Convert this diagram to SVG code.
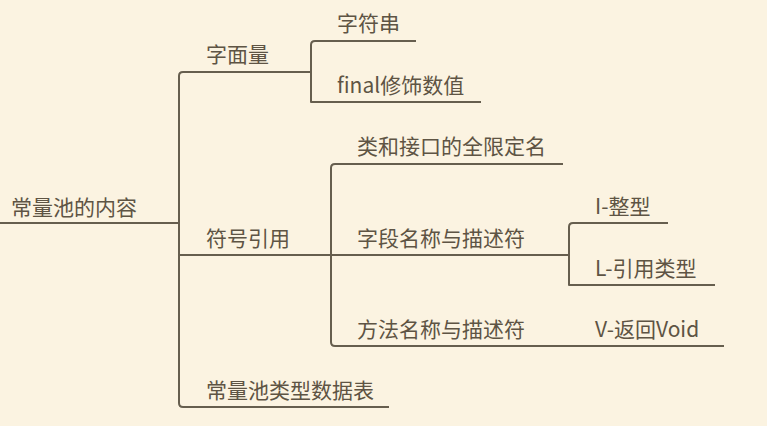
<svg xmlns="http://www.w3.org/2000/svg" width="767" height="426" viewBox="0 0 767 426">
<style>
.bg{fill:#FBF3E1}
.c{fill:none;stroke:#665E4E;stroke-width:2;stroke-linejoin:round}
.t{font-family:"Noto Sans CJK SC","Microsoft YaHei",sans-serif;font-size:21px;fill:#5E5444}
</style>
<rect class="bg" x="0" y="0" width="767" height="426"/>
<g id="connectors">
<path class="c" d="M0 223H179"/>
<path class="c" d="M311 72H183Q179 72 179 76V403Q179 407 183 407H389"/>
<path class="c" d="M179 255H331"/>
<path class="c" d="M416 41H315Q311 41 311 45V102H481"/>
<path class="c" d="M563 164H335Q331 164 331 168V342Q331 346 335 346H724"/>
<path class="c" d="M331 255H569"/>
<path class="c" d="M668 223H573Q569 223 569 227V285H715"/>
</g>
<g id="root"><text class="t" x="11" y="215">常量池的内容</text></g>
<g id="n1"><text class="t" x="206" y="62">字面量</text></g>
<g id="n1a"><text class="t" x="337" y="31">字符串</text></g>
<g id="n1b"><text class="t" x="337" y="93">final修饰数值</text></g>
<g id="n2"><text class="t" x="206" y="246">符号引用</text></g>
<g id="n2a"><text class="t" x="357" y="154">类和接口的全限定名</text></g>
<g id="n2b"><text class="t" x="357" y="246">字段名称与描述符</text></g>
<g id="n2b1"><text class="t" x="595" y="214">I-整型</text></g>
<g id="n2b2"><text class="t" x="595" y="276">L-引用类型</text></g>
<g id="n2c"><text class="t" x="357" y="337">方法名称与描述符</text></g>
<g id="n2c1"><text class="t" x="595" y="337">V-返回Void</text></g>
<g id="n3"><text class="t" x="206" y="398">常量池类型数据表</text></g>
</svg>
